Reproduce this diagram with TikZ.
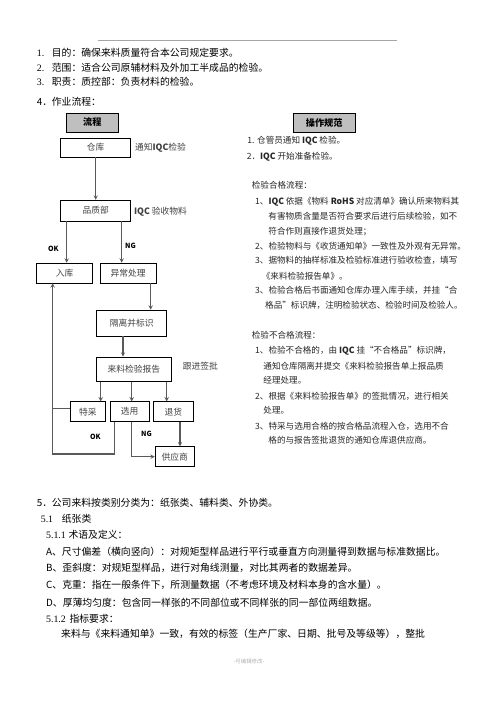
\documentclass[tikz,border=0pt]{standalone}
\usepackage{fontspec}
\setmainfont{Noto Sans CJK SC}
\newfontfamily\numfont{Liberation Serif}
\usepackage{tikz}
\usetikzlibrary{shapes,arrows,calc,positioning}

\begin{document}
\begin{tikzpicture}[x=1.2pt, y=-1.2pt,
  flowbox/.style={rectangle, draw, line width=0.7pt, minimum height=24pt, inner sep=1pt, font=\fontsize{10.5}{12}\selectfont, text=black!75},
  headbox/.style={rectangle, draw, line width=0.8pt, fill=black!25, minimum height=22.8pt, font=\fontsize{11}{13}\selectfont\bfseries},
  note/.style={anchor=west, inner sep=0pt, font=\fontsize{10.5}{12}\selectfont, text=black!75},
  tag/.style={anchor=west, inner sep=0pt, font=\fontsize{8.5}{10}\selectfont\bfseries},
  body/.style={anchor=west, inner sep=0pt, font=\fontsize{11.8}{14}\selectfont},
  spec/.style={anchor=west, inner sep=0pt, font=\fontsize{10.3}{12}\selectfont, text=black!85},
  arrow/.style={->, >=stealth, line width=1.3pt, draw=black!65},
  link/.style={line width=1.3pt, draw=black!65}
]
\useasboundingbox (0,0) rectangle (496,702);

% header rule
\coordinate (ruleL) at (98.3,40);
\coordinate (ruleR) at (396.7,40);
\draw[black!35, line width=0.5pt] (ruleL) -- (ruleR);

% text above the chart
\node[body] (p1) at (36.7,52.7) {\makebox[18pt][l]{\numfont 1.}目的：确保来料质量符合本公司规定要求。};
\node[body] (p2) at (36.7,67.3) {\makebox[18pt][l]{\numfont 2.}范围：适合公司原辅材料及外加工半成品的检验。};
\node[body] (p3) at (36.7,81.7) {\makebox[18pt][l]{\numfont 3.}职责：质控部：负责材料的检验。};
\node[body] (p4) at (36.7,101.7) {\makebox[18pt][l]{4．}作业流程：};

% flow chart
\node[headbox, minimum width=61.6pt] (liucheng) at (92.3,122.5) {流程};
\node[flowbox, minimum width=84pt, minimum height=22.8pt] (cangku) at (95.7,147.5) {仓库};
\node[flowbox, minimum width=84pt, minimum height=25pt] (pinzhi) at (95.7,210.5) {品质部};
\node[flowbox, minimum width=67.2pt] (ruku) at (64.7,273) {入库};
\node[flowbox, minimum width=67.2pt] (yichang) at (128,273) {异常处理};
\node[flowbox, minimum width=84pt, minimum height=31.2pt] (geli) at (131.7,323) {隔离并标识};
\node[flowbox, minimum width=90.8pt, minimum height=29.6pt] (baogao) at (133.9,369.3) {来料检验报告};
\node[flowbox, minimum width=41.2pt] (tecai) at (87.9,411.7) {特采};
\node[flowbox, minimum width=47.2pt] (xuanyong) at (129.7,411.7) {选用};
\node[flowbox, minimum width=48pt] (tuihuo) at (173.3,411.7) {退货};
\node[flowbox, minimum width=47.2pt] (gongying) at (174.7,456.7) {供应商};

\node[note] (tongzhi) at (135,148) {通知\textbf{IQC}检验};
\node[note] (yanshou) at (134,212) {\textbf{IQC} 验收物料};
\node[note] (genjin) at (182.7,366) {跟进签批};
\node[tag] (ok1) at (48,249) {OK};
\node[tag] (ng1) at (125,246) {NG};
\node[tag] (ok2) at (90,437.3) {OK};
\node[tag] (ng2) at (141,434) {NG};

\coordinate (okfoot) at ($(ruku.north)+(2,0)$);
\coordinate (ngfoot) at ($(yichang.north)+(-6.3,0)$);
\coordinate (gelifoot) at ($(yichang.south)+(22.7,0)$);
\coordinate (baogaofoot) at ($(geli.south)+(-8.7,0)$);
\coordinate (tecaifoot) at ($(tecai.north)+(12.8,0)$);
\coordinate (xuanfoot) at ($(xuanyong.north)+(2,0)$);
\coordinate (tuifoot) at ($(tuihuo.north)+(-6.6,0)$);
\coordinate (gongfoot) at ($(gongying.north)+(5.3,0)$);
\coordinate (tecaiout) at ($(tecai.west)+(0,-3.4)$);
\coordinate (back) at (52.7,454);

\draw[arrow] (cangku) -- (pinzhi);
\draw[arrow] (okfoot |- pinzhi.south) -- (okfoot);
\draw[arrow] (ngfoot |- pinzhi.south) -- (ngfoot);
\draw[arrow] (gelifoot) -- (gelifoot |- geli.north);
\draw[arrow] (baogaofoot) -- (baogaofoot |- baogao.north);
\draw[arrow] (tecaifoot |- baogao.south) -- (tecaifoot);
\draw[arrow] (xuanfoot |- baogao.south) -- (xuanfoot);
\draw[arrow] (tuifoot |- baogao.south) -- (tuifoot);
\draw[arrow] ($(xuanyong.south west)+(4.3,0)$) |- (back) -- (back |- ruku.south);
\draw[link] (tecaiout) -- (back |- tecaiout);
\draw[arrow] ($(xuanyong.south)+(2,0)$) |- (gongying.west);
\draw[arrow] (gongfoot |- tuihuo.south) -- (gongfoot);

% operating rules
\node[headbox, minimum width=74pt] (caozuo) at (324.2,122.8) {操作规范};
\node[spec] (s1) at (247.3,141) {1. 仓管员通知 \textbf{IQC} 检验。};
\node[spec] (s2) at (246.7,156.7) {2．\textbf{IQC} 开始准备检验。};
\node[spec] (s3) at (251.7,185.3) {检验合格流程：};
\node[spec] (s4) at (255,201.7) {1、\textbf{IQC} 依据《物料 \textbf{RoHS} 对应清单》确认所来物料其};
\node[spec] (s5) at (268.3,216.7) {有害物质含量是否符合要求后进行后续检验，如不};
\node[spec] (s6) at (268.3,231.7) {符合作则直接作退货处理；};
\node[spec] (s7) at (255,246.7) {2、检验物料与《收货通知单》一致性及外观有无异常。};
\node[spec] (s8) at (255,260.7) {3、据物料的抽样标准及检验标准进行验收检查，填写};
\node[spec] (s9) at (261.7,276) {《来料检验报告单》。};
\node[spec] (s10) at (255,290) {3、检验合格后书面通知仓库办理入库手续，并挂“合};
\node[spec] (s11) at (265,305) {格品”标识牌，注明检验状态、检验时间及检验人。};
\node[spec] (s12) at (251.7,335) {检验不合格流程：};
\node[spec] (s13) at (255,350.7) {1、检验不合格的，由 \textbf{IQC} 挂“不合格品”标识牌，};
\node[spec] (s14) at (263.3,366) {通知仓库隔离并提交《来料检验报告单上报品质};
\node[spec] (s15) at (263.3,380.7) {经理处理。};
\node[spec] (s16) at (255,396) {2、根据《来料检验报告单》的签批情况，进行相关};
\node[spec] (s17) at (263.3,410.7) {处理。};
\node[spec] (s18) at (255,426) {3、特采与选用合格的按合格品流程入仓，选用不合};
\node[spec] (s19) at (268.3,440.7) {格的与报告签批退货的通知仓库退供应商。};

% text below the chart
\node[body] (p5) at (36.7,502.7) {\makebox[18pt][l]{5．}公司来料按类别分类为：纸张类、辅料类、外协类。};
\node[body] (p6) at (40.7,518.3) {\makebox[25.2pt][l]{\numfont 5.1}纸张类};
\node[body] (p7) at (46,535) {\makebox[26.8pt][l]{\numfont 5.1.1}术语及定义：};
\node[body] (p8) at (46,551.7) {A、尺寸偏差（横向竖向）：对规矩型样品进行平行或垂直方向测量得到数据与标准数据比。};
\node[body] (p9) at (46,568.3) {B、歪斜度：对规矩型样品，进行对角线测量，对比其两者的数据差异。};
\node[body] (p10) at (46,585) {C、克重：指在一般条件下，所测量数据（不考虑环境及材料本身的含水量）。};
\node[body] (p11) at (46,602.3) {D、厚薄均匀度：包含同一样张的不同部位或不同样张的同一部位两组数据。};
\node[body] (p12) at (46,618.3) {\makebox[28pt][l]{\numfont 5.1.2}指标要求：};
\node[body] (p13) at (61,634.3) {来料与《来料通知单》一致，有效的标签（生产厂家、日期、批号及等级等），整批};

% footer
\node[font=\fontsize{6.5}{8}\selectfont, text=black!30] (footer) at (249,661) {-可编辑修改-};

\end{tikzpicture}
\end{document}
